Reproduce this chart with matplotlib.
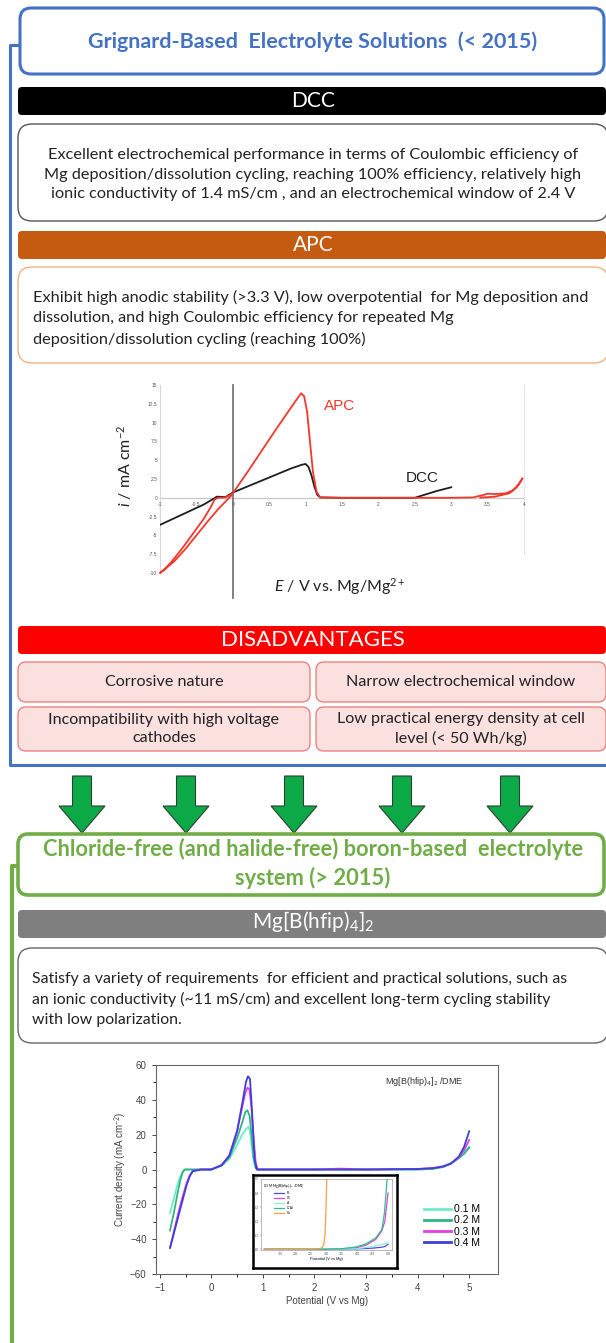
import matplotlib.pyplot as plt
from matplotlib.patches import FancyBboxPatch, Polygon

W, H = 606, 1343
plt.rcParams['font.family'] = ['Lato', 'DejaVu Sans']
plt.rcParams['mathtext.fontset'] = 'custom'
plt.rcParams['mathtext.rm'] = 'Lato'
plt.rcParams['mathtext.it'] = 'Lato:italic'

# ---------------- text content ----------------
title_top = "Grignard-Based  Electrolyte Solutions  (< 2015)"
dcc_lines = [
    "Excellent electrochemical performance in terms of Coulombic efficiency of",
    "Mg deposition/dissolution cycling, reaching 100% efficiency, relatively high",
    "ionic conductivity of 1.4 mS/cm , and an electrochemical window of 2.4 V",
]
apc_lines = [
    "Exhibit high anodic stability (>3.3 V), low overpotential  for Mg deposition and",
    "dissolution, and high Coulombic efficiency for repeated Mg",
    "deposition/dissolution cycling (reaching 100%)",
]
disadvantages = [
    "Corrosive nature",
    "Narrow electrochemical window",
    "Incompatibility with high voltage\ncathodes",
    "Low practical energy density at cell\nlevel (< 50 Wh/kg)",
]
title_bottom = ["Chloride-free (and halide-free) boron-based  electrolyte",
                "system (> 2015)"]
mg_name = r"Mg[B(hfip)$_4$]$_2$"
mg_lines = [
    "Satisfy a variety of requirements  for efficient and practical solutions, such as",
    "an ionic conductivity (~11 mS/cm) and excellent long-term cycling stability",
    "with low polarization.",
]

# ---------------- CV of APC and DCC (E / V, i / mA cm-2) ----------------
apc_E = [-0.02, -0.1, -0.2, -0.35, -0.5, -0.65, -0.8, -0.92, -1.0, -0.95, -0.85,
         -0.7, -0.55, -0.4, -0.3, -0.25, -0.2, -0.1, 0.0, 0.2, 0.4, 0.6, 0.8,
         0.9, 0.94, 0.98, 1.02, 1.06, 1.1, 1.15, 1.2, 1.5, 2.0, 2.5, 3.0, 3.3,
         3.45, 3.5, 3.6, 3.75, 3.85, 3.93, 3.98, 3.9, 3.8, 3.6, 3.4]
apc_i = [0.3, -0.5, -1.5, -3.2, -5.0, -6.8, -8.4, -9.4, -10.0, -9.6, -8.6,
         -6.8, -4.8, -2.8, -1.2, -0.2, 0.0, 0.05, 0.6, 3.4, 6.3, 9.2, 12.0,
         13.4, 13.9, 13.5, 11.5, 7.5, 3.5, 0.8, 0.05, 0.0, 0.0, 0.0, 0.0, 0.05,
         0.4, 0.55, 0.5, 0.6, 1.0, 1.8, 2.6, 1.4, 0.6, 0.15, 0.02]
dcc_E = [-1.0, -0.8, -0.6, -0.4, -0.26, -0.22, -0.1, 0.0, 0.2, 0.4, 0.6, 0.8,
         0.95, 1.0, 1.04, 1.08, 1.12, 1.16, 1.2, 1.5, 2.0, 2.5, 2.6, 2.7, 2.8,
         2.9, 3.0]
dcc_i = [-3.6, -2.7, -1.8, -0.9, -0.1, 0.15, 0.1, 0.7, 1.5, 2.3, 3.1, 3.9,
         4.4, 4.5, 4.1, 3.0, 1.5, 0.4, 0.05, 0.0, 0.0, 0.0, 0.3, 0.6, 0.9,
         1.15, 1.4]
apc_yticks = [-10, -7.5, -5, -2.5, 0, 2.5, 5, 7.5, 10, 12.5, 15]
apc_xticks = [-1, -0.5, 0, 0.5, 1, 1.5, 2, 2.5, 3, 3.5, 4]

# ---------------- CV of Mg[B(hfip)4]2 / DME ----------------
conc_labels = ["0.1 M", "0.2 M", "0.3 M", "0.4 M"]
conc_colors = ["#6EEBC9", "#2DB584", "#E23FDF", "#3E3EDC"]
mg_E = {
    "0.1 M": [-0.8, -0.72, -0.65, -0.6, -0.55, -0.5, -0.3, 0.0, 0.2, 0.35, 0.5,
              0.6, 0.68, 0.72, 0.75, 0.78, 0.82, 0.86, 0.9, 2.0, 3.0, 4.0, 4.3,
              4.5, 4.65, 4.8, 4.9, 5.0],
    "0.2 M": [-0.8, -0.72, -0.65, -0.6, -0.56, -0.52, -0.3, 0.0, 0.2, 0.35, 0.5,
              0.6, 0.66, 0.7, 0.74, 0.78, 0.82, 0.86, 0.9, 2.0, 3.0, 4.0, 4.3,
              4.5, 4.65, 4.8, 4.9, 5.0],
    "0.3 M": [-0.8, -0.72, -0.64, -0.56, -0.48, -0.42, -0.36, -0.2, 0.0, 0.2,
              0.35, 0.5, 0.6, 0.66, 0.7, 0.74, 0.78, 0.82, 0.86, 0.9, 2.0, 2.5,
              3.0, 4.0, 4.3, 4.5, 4.65, 4.8, 4.9, 5.0],
    "0.4 M": [-0.8, -0.72, -0.64, -0.56, -0.48, -0.42, -0.36, -0.2, 0.0, 0.2,
              0.35, 0.5, 0.6, 0.67, 0.71, 0.75, 0.78, 0.81, 0.84, 0.88, 2.0,
              3.0, 4.0, 4.3, 4.5, 4.65, 4.8, 4.9, 5.0],
}
mg_i = {
    "0.1 M": [-25, -16, -8, -4, -1, 0, 0, 0, 2, 6, 14, 20, 23.5, 24.5, 22, 14,
              5, 1, 0, 0, 0, 0, 0.4, 1.5, 3.5, 7, 10, 13],
    "0.2 M": [-35, -24, -13, -6, -2, 0, 0, 0, 2.5, 7, 18, 27, 33, 34, 31, 20,
              7, 1, 0, 0, 0, 0, 0.4, 1.5, 3.5, 6.5, 9, 12.5],
    "0.3 M": [-45, -35, -25, -16, -8, -3.5, -0.8, 0, 0, 2.5, 8, 22, 36, 44,
              47, 46, 35, 18, 4, 0, 0, 0.5, 0, 0.3, 0.8, 1.8, 3.5, 7, 11, 17],
    "0.4 M": [-45, -36, -27, -18, -9, -4, -1, 0, 0, 2.5, 8, 22, 38, 50, 53.5,
              52, 38, 22, 6, 0, 0, 0, 0.3, 0.8, 1.8, 3.5, 7.5, 13, 22],
}

# inset: 0.3 M on different working electrodes
wk_labels = ["Pt", "SS", "Al", "C/Al", "Cu"]
wk_colors = ["#4B4BE0", "#D946D9", "#86F0D2", "#2FBE8C", "#F5A043"]
wk_E = {
    "Pt": [1.0, 3.0, 4.0, 4.5, 4.8, 4.9, 4.95, 5.0],
    "SS": [1.0, 3.0, 3.5, 4.0, 4.3, 4.6, 4.8, 4.9, 4.95, 5.0],
    "Al": [1.0, 3.0, 4.0, 4.5, 4.8, 4.9, 5.0],
    "C/Al": [1.0, 3.0, 3.5, 4.0, 4.3, 4.6, 4.8, 4.88, 4.93, 4.97],
    "Cu": [1.0, 2.0, 2.7, 2.85, 2.92, 2.96, 2.98, 3.0, 3.02],
}
wk_i = {
    "Pt": [0.0, 0.0, 0.003, 0.008, 0.015, 0.02, 0.028, 0.035],
    "SS": [0.0, 0.0, 0.003, 0.012, 0.03, 0.07, 0.13, 0.2, 0.3, 0.4],
    "Al": [0.0, 0.0, 0.004, 0.02, 0.035, 0.04, 0.045],
    "C/Al": [0.0, 0.0, 0.004, 0.018, 0.04, 0.08, 0.14, 0.25, 0.38, 0.5],
    "Cu": [0.0, 0.0, 0.002, 0.008, 0.03, 0.1, 0.2, 0.35, 0.5],
}

# ---------------- figure ----------------
fig = plt.figure(figsize=(W / 100, H / 100), dpi=100)
ax = fig.add_axes([0, 0, 1, 1])
ax.set_xlim(0, W)
ax.set_ylim(H, 0)
ax.axis("off")
renderer = fig.canvas.get_renderer()

BLUE = "#4472C4"
GREEN = "#70AD47"


def rbox(x0, y0, x1, y1, fc, ec, lw=1.0, r=9):
    ax.add_patch(FancyBboxPatch((x0, y0), x1 - x0, y1 - y0,
                                boxstyle=f"round,pad=0,rounding_size={r}",
                                fc=fc, ec=ec, lw=lw))


def bar(y0, y1, fc):
    ax.add_patch(FancyBboxPatch((18, y0), W - 18, y1 - y0,
                                boxstyle="round,pad=0,rounding_size=4",
                                fc=fc, ec=fc, lw=0))


def size_for(s, width, size=10, **kw):
    # font size that makes string s about `width` pixels wide
    t = ax.text(0, 0, s, fontsize=size, **kw)
    w = t.get_window_extent(renderer).width
    t.remove()
    return size * width / w


def lines_at(xs, ys, lines, size, ha, **kw):
    for yy, s in zip(ys, lines):
        ax.text(xs, yy, s, fontsize=size, ha=ha, va="center", **kw)


# blue bracket
ax.plot([20, 10, 10, W], [45, 45, 765, 765], color=BLUE, lw=2.2,
        solid_capstyle="butt")
rbox(20, 8, 604, 74, "white", BLUE, lw=2.2, r=11)
s = size_for(title_top, 449, weight="bold")
ax.text(313, 42, title_top, fontsize=s, ha="center", va="center", color=BLUE,
        weight="bold")

# DCC
bar(87, 115, "black")
ax.text(313, 101, "DCC", color="white", fontsize=15, ha="center", va="center")
rbox(18, 124, 608, 221, "white", "#555555", lw=1.0, r=14)
s = size_for(dcc_lines[1], 537)
lines_at(313, [155, 174.5, 194], dcc_lines, s, "center", color="#222222")

# APC
bar(231, 259, "#C55A11")
ax.text(313, 245, "APC", color="white", fontsize=15, ha="center", va="center")
rbox(18, 267, 608, 363, "white", "#F4B183", lw=1.0, r=14)
s = size_for(apc_lines[0], 558)
lines_at(33, [297, 318, 339], apc_lines, s, "left", color="#222222")

# DISADVANTAGES
bar(626, 654, "#FF0000")
s = size_for("DISADVANTAGES", 183)
ax.text(313, 640, "DISADVANTAGES", fontsize=s, ha="center", va="center",
        color="white")
s = size_for(disadvantages[1], 230)
cells = [(18, 310, 662, 702), (316, 606, 662, 702),
         (18, 310, 707, 751), (316, 606, 707, 751)]
for (x0, x1, y0, y1), txt in zip(cells, disadvantages):
    rbox(x0, y0, x1, y1, "#FBE0E0", "#F08080", lw=1.0, r=8)
    ax.text((x0 + x1) / 2, (y0 + y1) / 2, txt, fontsize=s, ha="center",
            va="center", color="#222222", linespacing=1.35)

# arrows
for cx in [82, 186, 294, 402, 510]:
    ax.add_patch(Polygon([(cx - 9.5, 776), (cx + 9.5, 776), (cx + 9.5, 806),
                          (cx + 23, 806), (cx, 833), (cx - 23, 806), (cx - 9.5, 806)],
                         closed=True, fc="#0BAA46", ec="#2F3F2F", lw=0.8))

# green bracket and boron box
ax.plot([18, 12, 12], [866, 866, H], color=GREEN, lw=3, solid_capstyle="butt")
rbox(18, 834, 604, 895, "white", GREEN, lw=2.6, r=10)
s = size_for(title_bottom[0], 543, weight="bold")
lines_at(313, [849, 878], title_bottom, s, "center", color=GREEN, weight="bold")

bar(910, 938, "#7F7F7F")
ax.text(313, 922, mg_name, color="white", fontsize=15, ha="center", va="center")
rbox(18, 948, 608, 1043, "white", "#666666", lw=1.0, r=14)
s = size_for(mg_lines[0], 535)
lines_at(32, [979, 999.5, 1020], mg_lines, s, "left", color="#222222")

# ---------------- APC / DCC plot ----------------
pf = "Liberation Sans"
a1 = fig.add_axes([160 / W, 1 - 573 / H, 364 / W, 188 / H])
a1.set_xlim(-1, 4)
a1.set_ylim(-10, 15)
a1.patch.set_alpha(0)
for sp in ["top", "bottom"]:
    a1.spines[sp].set_visible(False)
a1.spines["left"].set_color("#D8D8D8")
a1.spines["right"].set_color("#E6E6E6")
a1.spines["right"].set_bounds(-7.5, 15)
a1.axhline(0, color="#C8C8C8", lw=0.9, zorder=1)
a1.axvline(0, ymin=-0.135, ymax=1, color="#777777", lw=1.3, clip_on=False, zorder=1)
a1.plot(dcc_E, dcc_i, color="#1E1E1E", lw=1.3, zorder=3)
a1.plot(apc_E, apc_i, color="#F2382C", lw=1.3, zorder=4, clip_on=False)
a1.set_yticks(apc_yticks)
a1.set_yticklabels([f"{v:g}" for v in apc_yticks], fontsize=3.5, color="#555555",
                   family=pf)
a1.tick_params(axis="y", length=0, pad=2)
a1.set_xticks([])
for v in apc_xticks:
    a1.text(v, -0.6, f"{v:g}", fontsize=3.5, color="#555555", ha="center",
            va="top", family=pf)
a1.text(1.25, 12.2, "APC", color="#F2382C", fontsize=11, family=pf, va="center")
a1.text(2.38, 2.6, "DCC", color="#1E1E1E", fontsize=11, family=pf, va="center")
ax.text(125, 466, r"$i$ / mA cm$^{-2}$", rotation=90, fontsize=11.5,
        ha="center", va="center", color="#222222")
ax.text(340, 587, r"$E$ / V vs. Mg/Mg$^{2+}$", fontsize=11.5, ha="center",
        va="center", color="#222222")

# ---------------- Mg[B(hfip)4]2 plot ----------------
a2 = fig.add_axes([155.6 / W, 1 - 1274 / H, 342 / W, 209 / H])
a2.set_xlim(-1.08, 5.55)
a2.set_ylim(-60, 60)
for c, lab in zip(conc_colors, conc_labels):
    a2.plot(mg_E[lab], mg_i[lab], color=c, lw=1.3, label=lab)
a2.set_xticks(range(-1, 6))
a2.set_xticks([-0.5, 0.5, 1.5, 2.5, 3.5, 4.5], minor=True)
a2.set_yticks(range(-60, 61, 20))
a2.set_yticks(range(-50, 60, 20), minor=True)
a2.tick_params(labelsize=7, colors="#444444", length=3, width=0.7)
a2.tick_params(which="minor", length=2, width=0.6)
for lab in a2.get_xticklabels() + a2.get_yticklabels():
    lab.set_family(pf)
for sp in a2.spines.values():
    sp.set_color("#666666")
    sp.set_linewidth(0.8)
a2.set_xlabel("Potential (V vs Mg)", fontsize=7, family=pf, color="#444444",
              labelpad=2)
a2.set_ylabel(r"Current density (mA cm$^{-2}$)", fontsize=7, family=pf,
              color="#444444", labelpad=1)
a2.text(0.9, 0.92, r"Mg[B(hfip)$_4$]$_2$ /DME", transform=a2.transAxes,
        fontsize=6.5, ha="right", va="center", family=pf, color="#333333")
leg = a2.legend(loc="lower right", bbox_to_anchor=(0.975, 0.08), frameon=False,
                handlelength=2.6, handletextpad=0.2, labelspacing=0.12,
                prop={"family": pf, "size": 7.5})
for ln in leg.get_lines():
    ln.set_linewidth(2)

# inset frame and inset plot
a3 = fig.add_axes([253 / W, 1 - 1268 / H, 144 / W, 93 / H])
a3.set_xticks([])
a3.set_yticks([])
for sp in a3.spines.values():
    sp.set_linewidth(1.8)
    sp.set_color("black")
a4 = fig.add_axes([261 / W, 1 - 1250 / H, 131 / W, 71 / H])
a4.set_xlim(0.89, 5.13)
a4.set_ylim(-0.005, 0.5)
for c, lab in zip(wk_colors, wk_labels):
    a4.plot(wk_E[lab], wk_i[lab], color=c, lw=0.9, label=lab)
a4.set_xticks([1.5, 2.0, 2.5, 3.0, 3.5, 4.0, 4.5, 5.0])
a4.set_yticks([0.0, 0.1, 0.2, 0.3, 0.4, 0.5])
a4.xaxis.set_major_formatter(plt.FormatStrFormatter("%.1f"))
a4.yaxis.set_major_formatter(plt.FormatStrFormatter("%.1f"))
a4.tick_params(labelsize=2.6, length=1, width=0.3, pad=0.6, colors="#555555")
for sp in a4.spines.values():
    sp.set_linewidth(0.4)
    sp.set_color("#888888")
a4.set_xlabel("Potential (V vs Mg)", fontsize=2.8, labelpad=0.5, family=pf)
a4.legend(loc="upper left", title=r"0.3 M Mg[B(hfip)$_4$]$_2$ /DME",
          title_fontsize=2.4, fontsize=2.4, frameon=False, handlelength=3,
          labelspacing=0.3, borderaxespad=0.3)

fig.savefig("out.png", dpi=100)
